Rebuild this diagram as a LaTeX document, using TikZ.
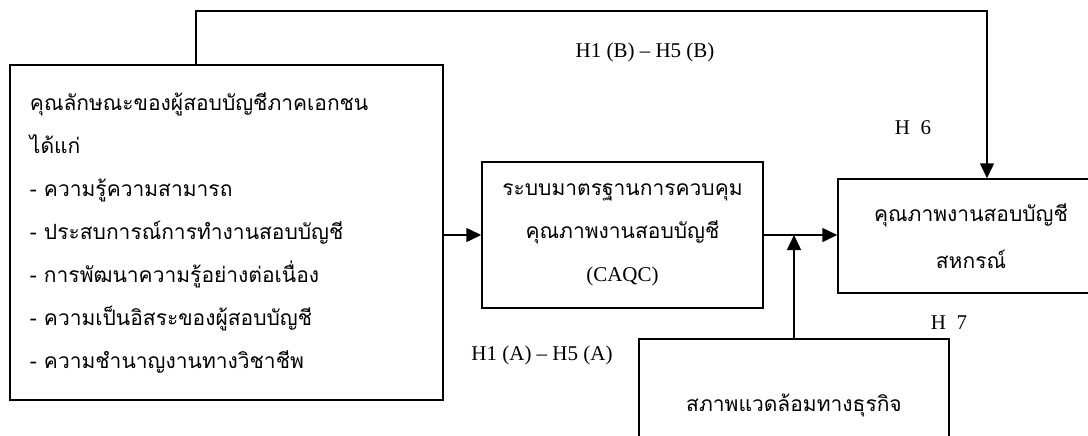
\documentclass[tikz,border=0pt]{standalone}
\usepackage{fontspec}
\setmainfont{Liberation Serif}
\newfontfamily\thaifont[Script=Thai]{Loma}
\usetikzlibrary{arrows.meta}

\begin{document}
\begin{tikzpicture}[x=1pt,y=-1pt,line width=1.5pt,
    box/.style={rectangle, draw, inner sep=0pt, font=\thaifont\fontsize{21}{43}\selectfont},
    >={Triangle[length=15pt,width=14pt]}]
    \tikzset{hyp/.style={font=\fontsize{21}{21}\selectfont, inner sep=0pt}}
    \useasboundingbox (0,0) rectangle (1088,436);
    \clip (0,0) rectangle (1088,436);
    % boxes
    \node[box, minimum width=433pt, minimum height=335pt, text width=393pt, align=left] (chars) at (226.5,232.5) {คุณลักษณะของผู้สอบบัญชีภาคเอกชน\\ได้แก่\\- ความรู้ความสามารถ\\- ประสบการณ์การทำงานสอบบัญชี\\- การพัฒนาความรู้อย่างต่อเนื่อง\\- ความเป็นอิสระของผู้สอบบัญชี\\- ความชำนาญงานทางวิชาชีพ};
    \node[box, minimum width=281pt, minimum height=146pt, align=center] (caqc) at (622.5,235) {ระบบมาตรฐานการควบคุม\\คุณภาพงานสอบบัญชี\\{\rmfamily\fontsize{21}{43}\selectfont (CAQC)}};
    \node[box, minimum width=266pt, minimum height=114pt, align=center, text depth=0pt] (quality) at (971,236) {คุณภาพงานสอบบัญชี\\[4pt]สหกรณ์};
    \node[box, minimum width=310pt, minimum height=132pt] (env) at (794,405) {สภาพแวดล้อมทางธุรกิจ};
    % connectors
    \coordinate (join) at (env.north |- caqc.east);
    \coordinate (tl) at (196,11);
    \coordinate (tr) at (987,11);
    \draw[->] (chars.east |- caqc.west) -- (caqc.west);
    \draw[->] (caqc.east) -- (caqc.east -| quality.west);
    \draw[->] (env.north) -- (join);
    \draw[->] (chars.north -| tl) -- (tl) -- (tr) -- (quality.north -| tr);
    % hypotheses
    \node[hyp] (hb) at (645,52) {H1 (B) – H5 (B)};
    \node[hyp] (h6) at (913,128) {H\ \ 6};
    \node[hyp] (h7) at (949,323) {H\ \ 7};
    \node[hyp] (ha) at (542,355) {H1 (A) – H5 (A)};
\end{tikzpicture}
\end{document}
